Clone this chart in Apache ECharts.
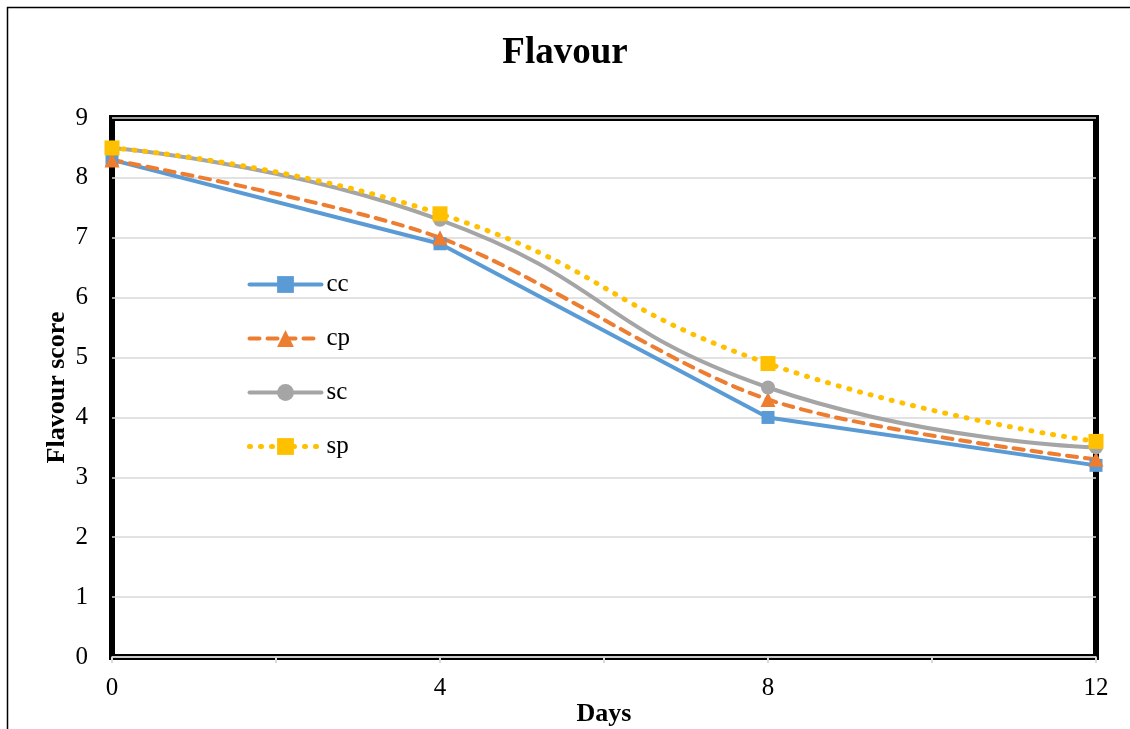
<!DOCTYPE html>
<html>
<head>
<meta charset="utf-8">
<script src="https://cdn.jsdelivr.net/npm/echarts@6/dist/echarts.min.js"></script>
<style>
  html, body { margin: 0; padding: 0; background: #fff; }
  #chart { width: 1130px; height: 729px; }
</style>
</head>
<body>
<div id="chart"></div>
<script>
// Storage days and flavour scores per sample
const days = [0, 4, 8, 12];
const cc = [8.3, 6.9, 4.0, 3.2];
const cp = [8.3, 7.0, 4.3, 3.3];
const sc = [8.5, 7.3, 4.5, 3.5];
const sp = [8.5, 7.4, 4.9, 3.6];
const xTickLabels = ['0', '4', '8', '12'];

const serif = '"Liberation Serif", "Times New Roman", serif';

function pairs(vals) {
  return days.map((d, i) => [d, vals[i]]);
}

function makeSeries(name, vals, color, lineType, symbol, smooth, symbolSize, width) {
  return {
    name: name,
    type: 'line',
    data: pairs(vals),
    smooth: smooth,
    symbol: symbol,
    symbolSize: symbolSize,
    showSymbol: true,
    lineStyle: { color: color, width: width, type: lineType, cap: 'round' },
    itemStyle: { color: color, borderWidth: 0 },
    emphasis: { disabled: true },
    z: 3
  };
}

function legendItem(name, color, lineType, width) {
  return {
    name: name,
    lineStyle: { color: color, width: width, type: lineType, cap: 'round' },
    itemStyle: { color: color }
  };
}

const chart = echarts.init(document.getElementById('chart'), null, { renderer: 'canvas' });

chart.setOption({
  animation: false,
  backgroundColor: '#fff',
  title: {
    text: 'Flavour',
    left: 'center',
    top: 30,
    textStyle: { fontFamily: serif, fontSize: 37, fontWeight: 'bold', color: '#000' }
  },
  graphic: [{
    type: 'rect',
    shape: { x: 7.5, y: 7.5, width: 1300, height: 900 },
    style: { fill: 'none', stroke: '#000', lineWidth: 1.5 },
    silent: true,
    z: 0
  }],
  legend: {
    orient: 'vertical',
    left: 242,
    top: 267,
    itemWidth: 72,
    itemHeight: 21,
    itemGap: 29,
    textStyle: { fontFamily: serif, fontSize: 25, color: '#000' },
    data: [
      legendItem('cc', '#5B9BD5', 'solid', 4),
      legendItem('cp', '#ED7D31', [10, 8], 4),
      legendItem('sc', '#A5A5A5', 'solid', 4),
      legendItem('sp', '#FFC000', [1, 10], 5)
    ]
  },
  grid: {
    left: 112,
    right: 34,
    top: 118,
    bottom: 72,
    show: true,
    borderColor: '#000',
    borderWidth: 6,
    backgroundColor: 'transparent',
    containLabel: false,
    outerBoundsMode: 'none'
  },
  xAxis: {
    type: 'value',
    min: 0,
    max: 12,
    interval: 2,
    offset: 3,
    name: 'Days',
    nameLocation: 'middle',
    nameGap: 41,
    nameMoveOverlap: false,
    nameTextStyle: { fontFamily: serif, fontSize: 26, fontWeight: 'bold', color: '#000' },
    axisLine: { show: true, lineStyle: { color: '#d9d9d9', width: 1.5 } },
    axisTick: { show: true, length: 6, lineStyle: { color: '#d9d9d9', width: 2 } },
    axisLabel: {
      fontFamily: serif, fontSize: 25, color: '#000', margin: 16,
      formatter: function (v) { return xTickLabels.indexOf(String(v)) >= 0 ? String(v) : ''; }
    },
    splitLine: { show: false }
  },
  yAxis: {
    type: 'value',
    min: 0,
    max: 9,
    interval: 1,
    name: 'Flavour score',
    nameLocation: 'middle',
    nameGap: 42,
    nameMoveOverlap: false,
    nameTextStyle: { fontFamily: serif, fontSize: 26, fontWeight: 'bold', color: '#000' },
    axisLine: { show: false },
    axisTick: { show: false },
    axisLabel: { fontFamily: serif, fontSize: 25, color: '#000', margin: 24 },
    splitLine: { show: true, lineStyle: { color: '#d9d9d9', width: 1.5 } }
  },
  series: [
    makeSeries('cc', cc, '#5B9BD5', 'solid', 'rect', false, 13, 4),
    makeSeries('cp', cp, '#ED7D31', [10, 8], 'triangle', 0.3, 15, 4),
    makeSeries('sc', sc, '#A5A5A5', 'solid', 'circle', 0.5, 14, 4),
    makeSeries('sp', sp, '#FFC000', [1, 10], 'rect', 0.5, 15, 5)
  ]
});
</script>
</body>
</html>
